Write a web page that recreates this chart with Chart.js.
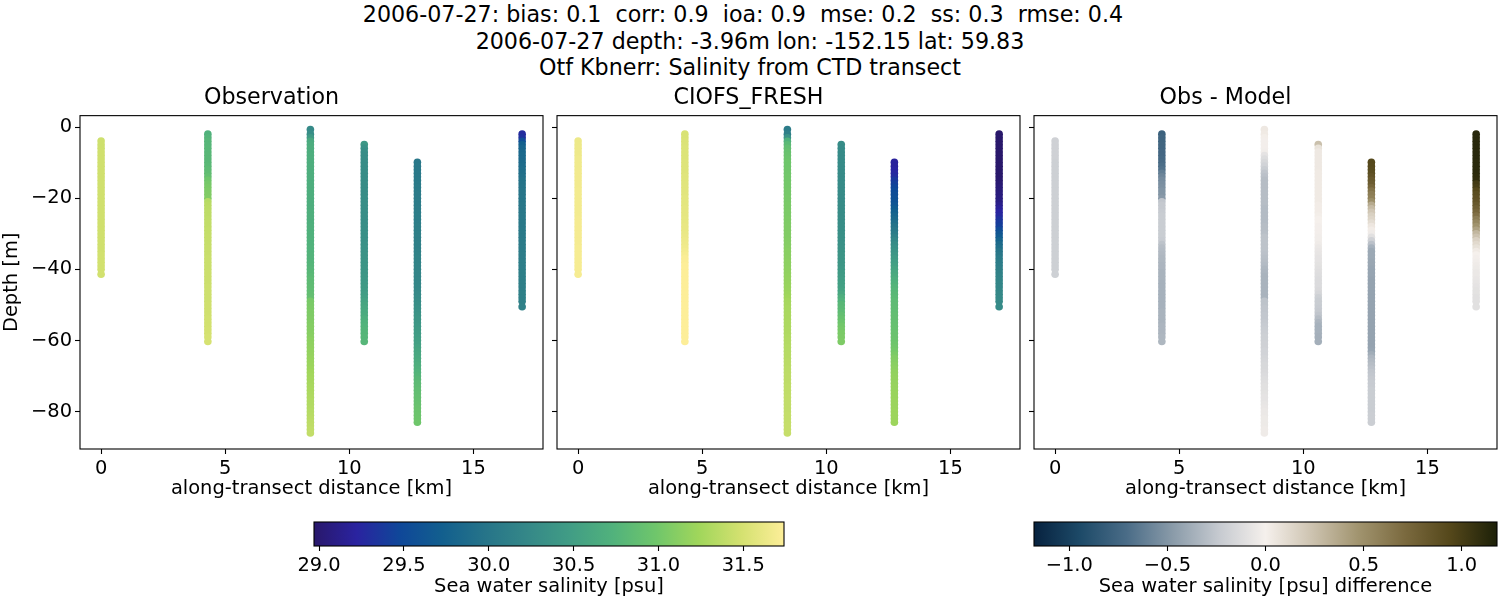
<!DOCTYPE html>
<html>
<head>
<meta charset="utf-8">
<title>Salinity from CTD transect</title>
<script src="https://cdn.jsdelivr.net/npm/chart.js@4"></script>
<style>
  html, body { margin: 0; padding: 0; background: #fff; overflow: hidden; width: 1500px; height: 600px; }
  canvas { position: absolute; }
  .sup { position: absolute; left: 0; width: 1500px; text-align: center; white-space: pre; color: #000;
         font: 22.2px "DejaVu Sans"; line-height: 26px; }
</style>
</head>
<body>
<div class="sup" style="top:1px">2006-07-27: bias: 0.1  corr: 0.9  ioa: 0.9  mse: 0.2  ss: 0.3  rmse: 0.4  </div>
<div class="sup" style="top:28px">2006-07-27 depth: -3.96m lon: -152.15 lat: 59.83</div>
<div class="sup" style="top:54px">Otf Kbnerr: Salinity from CTD transect</div>
<canvas id="obs" style="left:0;top:85px" width="623" height="418"></canvas>
<canvas id="model" style="left:477px;top:85px" width="623" height="418"></canvas>
<canvas id="diff" style="left:954px;top:85px" width="623" height="418"></canvas>
<canvas id="cbSalt" style="left:274px;top:521px" width="550" height="79"></canvas>
<canvas id="cbDiff" style="left:994px;top:521px" width="543" height="79"></canvas>
<script>
// Distancia de cada perfil ao longo do transecto [km]
const castDistance = [0, 4.3, 8.43, 10.6, 12.74, 16.96];

// Profundidades de cada perfil [m]
const depth1 = [-3.96,-5,-6,-7,-8,-9,
  -10,-11,-12,-13,-14,-15,-16,-17,-18,-19,
  -20,-21,-22,-23,-24,-25,-26,-27,-28,-29,
  -30,-31,-32,-33,-34,-35,-36,-37,-38,-39,
  -40,-41.4];
const depth2 = [-2,-3,-4,-5,-6,-7,-8,-9,
  -10,-11,-12,-13,-14,-15,-16,-17,-18,-19,
  -20,-21,-22,-23,-24,-25,-26,-27,-28,-29,
  -30,-31,-32,-33,-34,-35,-36,-37,-38,-39,
  -40,-41,-42,-43,-44,-45,-46,-47,-48,-49,
  -50,-51,-52,-53,-54,-55,-56,-57,-58,-59,-60.3];
const depth3 = [-0.7,-2,-3,-4,-5,-6,-7,-8,-9,
  -10,-11,-12,-13,-14,-15,-16,-17,-18,-19,
  -20,-21,-22,-23,-24,-25,-26,-27,-28,-29,
  -30,-31,-32,-33,-34,-35,-36,-37,-38,-39,
  -40,-41,-42,-43,-44,-45,-46,-47,-48,-49,
  -50,-51,-52,-53,-54,-55,-56,-57,-58,-59,
  -60,-61,-62,-63,-64,-65,-66,-67,-68,-69,
  -70,-71,-72,-73,-74,-75,-76,-77,-78,-79,
  -80,-81,-82,-83,-84,-85,-86];
const depth4 = [-4.9,-6,-7,-8,-9,
  -10,-11,-12,-13,-14,-15,-16,-17,-18,-19,
  -20,-21,-22,-23,-24,-25,-26,-27,-28,-29,
  -30,-31,-32,-33,-34,-35,-36,-37,-38,-39,
  -40,-41,-42,-43,-44,-45,-46,-47,-48,-49,
  -50,-51,-52,-53,-54,-55,-56,-57,-58,-59,-60.3];
const depth5 = [-9.9,-11,-12,-13,-14,-15,-16,-17,-18,-19,
  -20,-21,-22,-23,-24,-25,-26,-27,-28,-29,
  -30,-31,-32,-33,-34,-35,-36,-37,-38,-39,
  -40,-41,-42,-43,-44,-45,-46,-47,-48,-49,
  -50,-51,-52,-53,-54,-55,-56,-57,-58,-59,
  -60,-61,-62,-63,-64,-65,-66,-67,-68,-69,
  -70,-71,-72,-73,-74,-75,-76,-77,-78,-79,
  -80,-81,-82,-83];
const depth6 = [-2,-3,-4,-5,-6,-7,-8,-9,
  -10,-11,-12,-13,-14,-15,-16,-17,-18,-19,
  -20,-21,-22,-23,-24,-25,-26,-27,-28,-29,
  -30,-31,-32,-33,-34,-35,-36,-37,-38,-39,
  -40,-41,-42,-43,-44,-45,-46,-47,-48,-49,-50.5];

// Salinidade observada [psu]
const obs1 = [31.46,31.46,31.46,31.47,31.47,31.47,
  31.47,31.47,31.47,31.47,31.47,31.47,31.47,31.47,31.47,31.47,
  31.47,31.47,31.47,31.47,31.47,31.47,31.47,31.47,31.47,31.47,
  31.47,31.47,31.47,31.47,31.47,31.47,31.48,31.48,31.48,31.48,
  31.48,31.48];
const obs2 = [30.72,30.76,30.78,30.78,30.79,30.79,30.80,30.80,
  30.80,30.82,30.84,30.86,30.90,30.98,31.02,31.04,31.06,31.07,
  31.08,31.34,31.36,31.37,31.38,31.38,31.39,31.40,31.40,31.41,
  31.41,31.42,31.42,31.42,31.43,31.43,31.43,31.44,31.44,31.44,
  31.44,31.45,31.45,31.45,31.45,31.46,31.46,31.46,31.46,31.46,
  31.47,31.47,31.47,31.47,31.48,31.48,31.48,31.49,31.49,31.50,31.50];
const obs3 = [30.25,30.30,30.45,30.62,30.66,30.67,30.67,30.68,30.68,
  30.68,30.68,30.68,30.68,30.68,30.68,30.68,30.68,30.68,30.68,
  30.69,30.69,30.69,30.69,30.70,30.70,30.70,30.70,30.71,30.71,
  30.72,30.72,30.73,30.73,30.74,30.74,30.75,30.75,30.76,30.77,
  30.78,30.80,30.82,30.84,30.85,30.86,30.87,30.88,30.90,31.03,
  31.04,31.05,31.06,31.06,31.07,31.08,31.09,31.10,31.11,31.12,
  31.14,31.15,31.16,31.17,31.18,31.19,31.20,31.21,31.22,31.24,
  31.25,31.26,31.27,31.28,31.29,31.30,31.31,31.32,31.32,31.33,
  31.34,31.35,31.36,31.37,31.38,31.39,31.40];
const obs4 = [30.42,30.34,30.30,30.29,30.29,
  30.29,30.29,30.29,30.29,30.29,30.29,30.29,30.29,30.29,30.29,
  30.30,30.30,30.30,30.30,30.30,30.30,30.30,30.30,30.31,30.31,
  30.32,30.32,30.33,30.34,30.35,30.35,30.36,30.36,30.37,30.38,
  30.39,30.40,30.41,30.42,30.43,30.45,30.46,30.48,30.50,30.54,
  30.58,30.60,30.62,30.64,30.68,30.72,30.74,30.76,30.77,30.78,30.78];
const obs5 = [30.02,30.03,30.03,30.04,30.04,30.05,30.05,30.06,30.06,30.07,
  30.07,30.08,30.08,30.09,30.09,30.10,30.10,30.10,30.11,30.11,
  30.11,30.12,30.12,30.13,30.13,30.14,30.15,30.16,30.17,30.18,
  30.18,30.19,30.19,30.20,30.21,30.22,30.23,30.24,30.26,30.28,
  30.30,30.32,30.34,30.36,30.38,30.40,30.42,30.44,30.46,30.48,
  30.50,30.52,30.55,30.58,30.60,30.62,30.65,30.68,30.71,30.74,
  30.77,30.80,30.83,30.85,30.87,30.88,30.90,30.91,30.92,30.94,
  30.95,30.96,30.97,30.98];
const obs6 = [29.28,29.32,29.55,29.74,29.80,29.82,29.84,29.85,
  29.86,29.88,29.90,29.92,29.94,29.96,29.97,29.98,29.99,29.99,
  30.00,30.00,30.01,30.02,30.02,30.03,30.03,30.04,30.04,30.05,
  30.05,30.05,30.06,30.07,30.08,30.08,30.09,30.09,30.10,30.10,
  30.10,30.11,30.11,30.11,30.12,30.12,30.12,30.13,30.13,30.13,30.14];

// Salinidade do modelo CIOFS_FRESH [psu]
const model1 = [31.64,31.64,31.65,31.65,31.65,31.66,
  31.66,31.66,31.66,31.67,31.67,31.67,31.67,31.67,31.68,31.68,
  31.68,31.68,31.68,31.68,31.68,31.68,31.69,31.69,31.69,31.69,
  31.69,31.69,31.69,31.69,31.70,31.70,31.70,31.70,31.70,31.70,
  31.70,31.70];
const model2 = [31.52,31.52,31.53,31.53,31.54,31.54,31.54,31.54,
  31.55,31.55,31.55,31.55,31.56,31.56,31.56,31.57,31.57,31.57,
  31.58,31.58,31.58,31.59,31.59,31.59,31.60,31.60,31.61,31.61,
  31.62,31.63,31.64,31.65,31.66,31.68,31.70,31.72,31.73,31.74,
  31.74,31.74,31.74,31.74,31.74,31.74,31.74,31.74,31.74,31.74,
  31.74,31.74,31.74,31.74,31.74,31.74,31.74,31.74,31.74,31.74,31.74];
const model3 = [30.08,30.12,30.35,30.72,30.82,30.88,30.92,30.94,30.96,
  30.98,30.98,30.99,30.99,31.00,31.00,31.01,31.01,31.02,31.02,
  31.03,31.03,31.04,31.04,31.05,31.05,31.06,31.06,31.07,31.07,
  31.08,31.08,31.09,31.10,31.11,31.12,31.12,31.13,31.14,31.14,
  31.15,31.16,31.17,31.18,31.19,31.20,31.21,31.22,31.24,31.26,
  31.27,31.28,31.28,31.29,31.29,31.30,31.30,31.31,31.31,31.32,
  31.33,31.33,31.34,31.34,31.35,31.35,31.36,31.36,31.37,31.37,
  31.38,31.38,31.38,31.39,31.39,31.39,31.40,31.40,31.40,31.40,
  31.40,31.41,31.41,31.41,31.42,31.42,31.42];
const model4 = [30.28,30.26,30.26,30.26,30.26,
  30.26,30.26,30.26,30.27,30.27,30.27,30.27,30.27,30.27,30.27,
  30.27,30.27,30.28,30.28,30.28,30.28,30.29,30.29,30.30,30.30,
  30.31,30.32,30.33,30.34,30.35,30.36,30.37,30.38,30.39,30.40,
  30.42,30.44,30.46,30.48,30.50,30.52,30.55,30.60,30.68,30.74,
  30.80,30.82,30.84,30.88,30.92,30.96,31.00,31.02,31.04,31.05,31.06];
const model5 = [29.20,29.20,29.22,29.24,29.28,29.36,29.42,29.46,29.50,29.54,
  29.56,29.58,29.62,29.68,29.74,29.80,29.84,29.90,29.96,30.02,
  30.08,30.14,30.22,30.28,30.32,30.36,30.40,30.44,30.48,30.52,
  30.56,30.60,30.64,30.68,30.72,30.76,30.78,30.80,30.82,30.84,
  30.85,30.86,30.87,30.88,30.89,30.90,30.91,30.92,30.93,30.94,
  30.95,30.97,30.99,31.01,31.04,31.08,31.10,31.12,31.14,31.16,
  31.17,31.18,31.18,31.19,31.19,31.20,31.20,31.21,31.21,31.21,
  31.22,31.22,31.22,31.22];
const model6 = [28.97,28.97,28.97,28.97,28.97,28.97,28.97,28.97,
  28.97,28.97,28.97,28.97,28.97,28.98,29.00,29.02,29.03,29.05,
  29.06,29.08,29.12,29.18,29.22,29.26,29.32,29.38,29.42,29.52,
  29.62,29.68,29.78,29.86,29.92,29.98,30.02,30.06,30.08,30.10,
  30.12,30.14,30.16,30.18,30.20,30.21,30.22,30.23,30.24,30.25,30.26];

// Diferenca observacao - modelo [psu]
const diff1 = [-0.19,-0.19,-0.19,-0.19,-0.19,-0.19,
  -0.20,-0.20,-0.20,-0.20,-0.20,-0.20,-0.20,-0.20,-0.20,-0.20,
  -0.20,-0.20,-0.20,-0.20,-0.20,-0.20,-0.20,-0.20,-0.20,-0.20,
  -0.20,-0.20,-0.20,-0.20,-0.20,-0.20,-0.20,-0.20,-0.20,-0.20,
  -0.20,-0.20];
const diff2 = [-0.78,-0.76,-0.76,-0.75,-0.75,-0.74,-0.74,-0.73,
  -0.72,-0.70,-0.68,-0.62,-0.58,-0.55,-0.53,-0.52,-0.50,-0.50,
  -0.48,-0.26,-0.24,-0.24,-0.23,-0.22,-0.22,-0.22,-0.22,-0.22,
  -0.22,-0.22,-0.23,-0.27,-0.30,-0.31,-0.32,-0.33,-0.33,-0.34,
  -0.34,-0.35,-0.35,-0.35,-0.36,-0.36,-0.36,-0.36,-0.36,-0.36,
  -0.36,-0.36,-0.35,-0.35,-0.35,-0.35,-0.34,-0.34,-0.34,-0.33,-0.33];
const diff3 = [0.04,0.03,0.01,-0.01,-0.01,-0.01,-0.02,-0.08,-0.12,
  -0.15,-0.18,-0.22,-0.26,-0.28,-0.30,-0.30,-0.30,-0.30,-0.30,
  -0.30,-0.30,-0.30,-0.31,-0.31,-0.31,-0.31,-0.31,-0.30,-0.30,
  -0.29,-0.27,-0.27,-0.27,-0.27,-0.27,-0.28,-0.29,-0.30,-0.31,
  -0.33,-0.34,-0.35,-0.35,-0.35,-0.35,-0.35,-0.35,-0.35,-0.27,
  -0.27,-0.26,-0.26,-0.25,-0.25,-0.24,-0.23,-0.22,-0.21,-0.20,
  -0.20,-0.19,-0.19,-0.18,-0.18,-0.17,-0.16,-0.15,-0.15,-0.14,
  -0.13,-0.12,-0.11,-0.10,-0.10,-0.09,-0.08,-0.08,-0.07,-0.06,
  -0.05,-0.05,-0.04,-0.04,-0.04,-0.03,-0.03];
const diff4 = [0.25,0.07,0.04,0.04,0.04,
  0.04,0.04,0.04,0.03,0.03,0.03,0.03,0.03,0.03,0.03,
  0.03,0.03,0.02,0.02,0.02,0.01,0.00,0.00,-0.01,-0.01,
  -0.01,-0.02,-0.02,-0.03,-0.05,-0.06,-0.07,-0.08,-0.08,-0.09,
  -0.10,-0.11,-0.12,-0.13,-0.13,-0.13,-0.14,-0.16,-0.20,-0.22,
  -0.22,-0.23,-0.24,-0.26,-0.30,-0.34,-0.36,-0.36,-0.36,-0.37,-0.37];
const diff5 = [0.94,0.93,0.92,0.90,0.86,0.82,0.80,0.74,0.66,0.60,
  0.58,0.50,0.36,0.28,0.22,0.17,0.14,0.10,0.05,0.02,
  -0.03,-0.10,-0.19,-0.28,-0.36,-0.40,-0.40,-0.40,-0.41,-0.41,
  -0.42,-0.42,-0.42,-0.43,-0.43,-0.43,-0.43,-0.43,-0.43,-0.43,
  -0.43,-0.43,-0.43,-0.43,-0.43,-0.43,-0.43,-0.43,-0.43,-0.43,
  -0.43,-0.43,-0.43,-0.42,-0.38,-0.34,-0.32,-0.30,-0.28,-0.26,
  -0.25,-0.24,-0.23,-0.23,-0.22,-0.22,-0.22,-0.22,-0.22,-0.22,
  -0.22,-0.21,-0.21,-0.21];
const diff6 = [1.13,1.13,1.13,1.13,1.13,1.13,1.13,1.13,
  1.12,1.12,1.12,1.12,1.11,1.10,1.02,1.00,0.94,0.90,
  0.88,0.86,0.82,0.78,0.74,0.68,0.60,0.54,0.48,0.40,
  0.30,0.24,0.16,0.12,0.08,0.03,0.00,-0.01,-0.02,-0.03,
  -0.04,-0.05,-0.05,-0.06,-0.07,-0.08,-0.09,-0.09,-0.10,-0.10,-0.10];

const depths = [depth1, depth2, depth3, depth4, depth5, depth6];
const obsValues = [obs1, obs2, obs3, obs4, obs5, obs6];
const modelValues = [model1, model2, model3, model4, model5, model6];
const diffValues = [diff1, diff2, diff3, diff4, diff5, diff6];

// Marcas dos eixos
const xTicks = [0, 5, 10, 15];
const yTicks = [0, -20, -40, -60, -80];
const saltTicks = [29, 29.5, 30, 30.5, 31, 31.5];
const diffTicks = [-1, -0.5, 0, 0.5, 1];
const saltRange = [28.97, 31.74];
const diffRange = [-1.18, 1.18];

// Mapas de cores (haline e diff)
const halineColors = [[41,24,107],[42,35,160],[15,71,153],[18,95,142],[38,116,137],[53,136,136],
  [65,157,133],[81,178,124],[111,198,107],[160,214,91],[212,225,112],[253,238,153]];
const diffColors = [[7,34,63],[29,74,104],[74,108,135],[138,155,169],[198,202,208],[245,240,236],
  [205,195,176],[161,148,111],[123,106,63],[84,71,26],[28,32,8]];

const FONT = 'DejaVu Sans';
const numberLabel = v => String(v).replace('-', '\u2212');
const decimalLabel = v => v.toFixed(1).replace('-', '\u2212');

// Devolve a cor do mapa para um valor normalizado entre 0 e 1
const corDoMapa = (mapa, t) => {
  const pos = Math.min(Math.max(t, 0), 1) * (mapa.length - 1);
  const i = Math.min(Math.floor(pos), mapa.length - 2);
  const f = pos - i;
  const c = mapa[i].map((v, k) => Math.round(v + (mapa[i + 1][k] - v) * f));
  return `rgb(${c[0]},${c[1]},${c[2]})`;
};

// Moldura preta em volta da area do grafico
const molduraPlugin = {
  id: 'moldura',
  afterDraw(chart) {
    const { left, top, width, height } = chart.chartArea;
    const ctx = chart.ctx;
    ctx.save();
    ctx.strokeStyle = '#000';
    ctx.lineWidth = 1.1;
    ctx.strokeRect(left, top, width, height);
    ctx.restore();
  }
};

const criarPainel = (id, titulo, valores, mapa, range, mostrarY) => {
  const datasets = depths.map((prof, c) => ({
    data: prof.map(y => ({ x: castDistance[c], y })),
    showLine: false,
    pointRadius: 3.8,
    pointBorderWidth: 0,
    pointBackgroundColor: valores[c].map(v => corDoMapa(mapa, (v - range[0]) / (range[1] - range[0])))
  }));
  return new Chart(document.getElementById(id), {
    type: 'scatter',
    data: { datasets },
    plugins: [molduraPlugin],
    options: {
      responsive: false,
      animation: false,
      devicePixelRatio: 1,
      layout: { padding: { left: 0, right: 80, top: 0, bottom: 0 } },
      plugins: {
        legend: { display: false },
        tooltip: { enabled: false },
        title: {
          display: true,
          text: titulo,
          color: '#000',
          font: { family: FONT, size: 22.2, weight: 'normal' },
          padding: { top: 0, bottom: 4 }
        }
      },
      scales: {
        x: {
          type: 'linear',
          min: -0.85,
          max: 17.8,
          afterBuildTicks: axis => { axis.ticks = xTicks.map(value => ({ value })); },
          afterFit: axis => { axis.height = 54; },
          ticks: {
            color: '#000',
            font: { family: FONT, size: 19.44 },
            padding: 3,
            maxRotation: 0,
            callback: numberLabel
          },
          grid: { drawOnChartArea: false, tickLength: 5, tickColor: '#000', tickWidth: 1.1 },
          border: { display: false },
          title: {
            display: true,
            text: 'along-transect distance [km]',
            color: '#000',
            font: { family: FONT, size: 19.44 },
            padding: { top: 0, bottom: 2 }
          }
        },
        y: {
          type: 'linear',
          min: -90.5,
          max: 3.2,
          afterBuildTicks: axis => { axis.ticks = yTicks.map(value => ({ value })); },
          afterFit: axis => { axis.width = 80; },
          ticks: {
            display: mostrarY,
            color: '#000',
            font: { family: FONT, size: 19.44 },
            padding: 3,
            callback: numberLabel
          },
          grid: { drawOnChartArea: false, tickLength: 5, tickColor: '#000', tickWidth: 1.1 },
          border: { display: false },
          title: {
            display: mostrarY,
            text: 'Depth [m]',
            color: '#000',
            font: { family: FONT, size: 19.44 },
            padding: 0
          }
        }
      }
    }
  });
};

// Barra de cores como barra flutuante do proprio Chart.js
const criarBarra = (id, titulo, mapa, range, marcas) => new Chart(document.getElementById(id), {
  type: 'bar',
  data: {
    labels: [''],
    datasets: [{
      data: [range],
      barPercentage: 1,
      categoryPercentage: 1,
      borderWidth: 0,
      backgroundColor: ({ chart }) => {
        if (!chart.chartArea) return '#888';
        const { left, right } = chart.chartArea;
        const g = chart.ctx.createLinearGradient(left, 0, right, 0);
        mapa.forEach((_, i) => {
          const t = i / (mapa.length - 1);
          g.addColorStop(t, corDoMapa(mapa, t));
        });
        return g;
      }
    }]
  },
  plugins: [molduraPlugin],
  options: {
    indexAxis: 'y',
    responsive: false,
    animation: false,
    devicePixelRatio: 1,
    layout: { padding: { left: 40, right: 40, top: 1, bottom: 0 } },
    plugins: { legend: { display: false }, tooltip: { enabled: false } },
    scales: {
      y: { display: false },
      x: {
        type: 'linear',
        min: range[0],
        max: range[1],
        afterBuildTicks: axis => { axis.ticks = marcas.map(value => ({ value })); },
        afterFit: axis => { axis.height = 54; },
        ticks: {
          color: '#000',
          font: { family: FONT, size: 19.44 },
          padding: 3,
          maxRotation: 0,
          callback: decimalLabel
        },
        grid: { drawOnChartArea: false, tickLength: 5, tickColor: '#000', tickWidth: 1.1 },
        border: { display: false },
        title: {
          display: true,
          text: titulo,
          color: '#000',
          font: { family: FONT, size: 19.44 },
          padding: { top: 0, bottom: 1 }
        }
      }
    }
  }
});

criarPainel('obs', 'Observation', obsValues, halineColors, saltRange, true);
criarPainel('model', 'CIOFS_FRESH', modelValues, halineColors, saltRange, false);
criarPainel('diff', 'Obs - Model', diffValues, diffColors, diffRange, false);
criarBarra('cbSalt', 'Sea water salinity [psu]', halineColors, saltRange, saltTicks);
criarBarra('cbDiff', 'Sea water salinity [psu] difference', diffColors, diffRange, diffTicks);
</script>
</body>
</html>
